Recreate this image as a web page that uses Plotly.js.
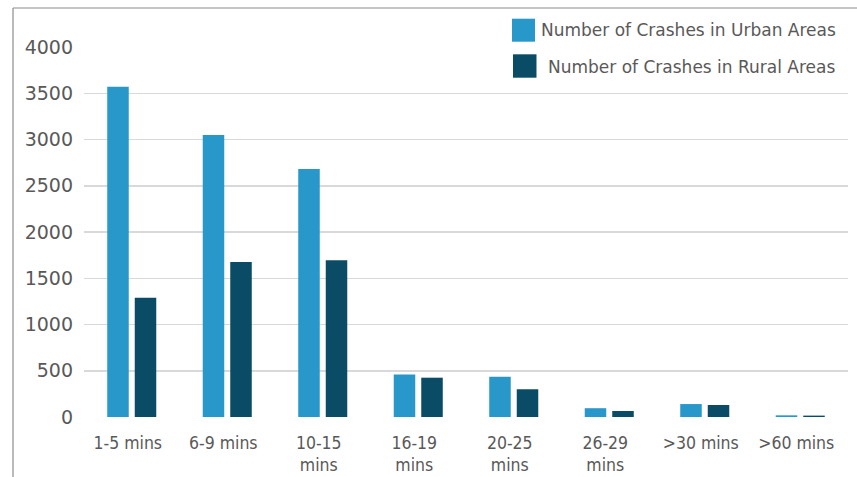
<!DOCTYPE html>
<html>
<head>
<meta charset="utf-8">
<script src="https://cdn.plot.ly/plotly-3.0.1.min.js"></script>
<style>html,body{margin:0;padding:0;background:#fff;}#chart{width:857px;height:477px;}</style>
</head>
<body>
<div id="chart"></div>
<script>
const categories = ["1-5 mins", "6-9 mins", "10-15<br>mins", "16-19<br>mins", "20-25<br>mins", "26-29<br>mins", ">30 mins", ">60 mins"];
const urbanValues = [3570, 3050, 2680, 460, 435, 95, 140, 18];
const ruralValues = [1290, 1675, 1695, 425, 300, 65, 130, 15];
const seriesNames = ["Number of Crashes in Urban Areas", "Number of Crashes in Rural Areas"];
const seriesColors = ["#2897CA", "#0A4C66"];
const yTicks = [0, 500, 1000, 1500, 2000, 2500, 3000, 3500, 4000];

const textColor = "#595959";
const traces = [
  {type: "bar", x: categories, y: urbanValues, name: seriesNames[0], marker: {color: seriesColors[0]}, hoverinfo: "x+y"},
  {type: "bar", x: categories, y: ruralValues, name: seriesNames[1], marker: {color: seriesColors[1]}, hoverinfo: "x+y"}
];

// layout geometry (pixels -> paper)
const L = 84, R = 848, T = 47, B = 417;
const px = v => (v - L) / (R - L);
const py = v => (B - v) / (B - T);

const layout = {
  width: 857, height: 477,
  margin: {l: L, r: 857 - R, t: T, b: 477 - B},
  paper_bgcolor: "#ffffff", plot_bgcolor: "#ffffff",
  showlegend: false,
  barmode: "group",
  bargap: 0.424,
  bargroupgap: 0.218,
  xaxis: {
    type: "category",
    showgrid: false, zeroline: false, showline: false, ticks: "",
    tickfont: {family: "'DejaVu Sans Condensed', 'Liberation Sans Narrow', 'DejaVu Sans', sans-serif", size: 17.5, color: textColor},
    ticklabelstandoff: 13,
    ticklabelshift: -4,
    fixedrange: true
  },
  yaxis: {
    range: [0, 4000],
    tickvals: yTicks,
    ticktext: yTicks.map(String),
    showgrid: true, gridcolor: "#d9d9d9", gridwidth: 1.5,
    zeroline: false, showline: false, ticks: "",
    tickfont: {family: "'DejaVu Sans', sans-serif", size: 19, color: textColor},
    ticklabelstandoff: 10,
    fixedrange: true
  },
  shapes: [
    {type: "rect", xref: "paper", yref: "paper", x0: px(512), x1: px(535), y0: py(41.7), y1: py(18.7), fillcolor: seriesColors[0], line: {width: 0}},
    {type: "rect", xref: "paper", yref: "paper", x0: px(513), x1: px(536.5), y0: py(77.7), y1: py(54.3), fillcolor: seriesColors[1], line: {width: 0}},
    {type: "line", xref: "paper", yref: "paper", x0: px(13), x1: px(13), y0: py(8), y1: py(480), line: {color: "#8c8c8c", width: 1.2}},
    {type: "line", xref: "paper", yref: "paper", x0: px(13), x1: px(860), y0: py(8), y1: py(8), line: {color: "#8c8c8c", width: 1.2}}
  ],
  annotations: [
    {xref: "paper", yref: "paper", x: px(539), y: py(30.5), xanchor: "left", yanchor: "middle", showarrow: false, text: seriesNames[0], font: {family: "'DejaVu Sans', sans-serif", size: 17, color: textColor}},
    {xref: "paper", yref: "paper", x: px(545.5), y: py(66.5), xanchor: "left", yanchor: "middle", showarrow: false, text: seriesNames[1], font: {family: "'DejaVu Sans', sans-serif", size: 17, color: textColor}}
  ]
};

Plotly.newPlot("chart", traces, layout, {displayModeBar: false, staticPlot: true});
</script>
</body>
</html>
